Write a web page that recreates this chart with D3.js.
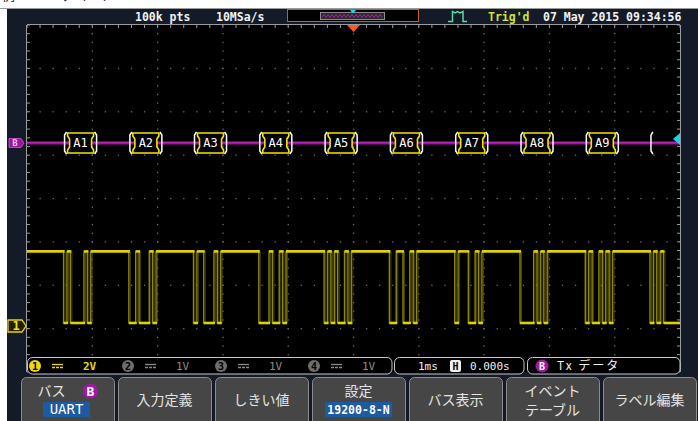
<!DOCTYPE html>
<html>
<head>
<meta charset="utf-8">
<title>UART bus decode</title>
<script src="https://d3js.org/d3.v7.min.js"></script>
<style>
  html, body { margin: 0; padding: 0; background: #fff; }
  svg { display: block; }
  text { font-family: "DejaVu Sans Mono", monospace; }
  .jp { font-family: "Noto Sans CJK JP", sans-serif; }
</style>
</head>
<body>
<svg id="scope" width="698" height="421"></svg>
<script>
// decoded bytes on bus B (UART 19200-8-N), last frame is cut by the screen edge
var busBytes = ['A1', 'A2', 'A3', 'A4', 'A5', 'A6', 'A7', 'A8', 'A9', '05'];
var frameStart = [-4.44, -3.44, -2.45, -1.45, -0.45, 0.55, 1.55, 2.55, 3.55, 4.54];
var baudRate = 19200;
var ch1Levels = [0, 3.3];           // low / high, volts
var ch1Settings = { voltsPerDiv: 2, offsetDiv: -2.87 };
var busOffsetDiv = 1.28;

var headerTexts = ['100k pts', '10MSa/s'];
var channelScales = ['2V', '1V', '1V', '1V'];
var timebase = ['1ms', '0.000s'];
var menuLabels = [['バス', 'UART'], ['入力定義'], ['しきい値'], ['設定', '19200-8-N'],
                  ['バス表示'], ['イベント', 'テーブル'], ['ラベル編集']];

var svg = d3.select('#scope');
var navy = '#141a27';

// scales: 10 x 8 divisions
var x = d3.scaleLinear().domain([-5, 5]).range([27, 680]);
var y = d3.scaleLinear().domain([-4, 4]).range([372, 25]);
var bitMs = 1000 / baudRate;
function ch1Y(v) { return y(ch1Settings.offsetDiv + v / ch1Settings.voltsPerDiv); }

// background
svg.append('rect').attr('width', 698).attr('height', 421).attr('fill', '#fff');
svg.append('rect').attr('x', 7).attr('y', 9).attr('width', 691).attr('height', 412).attr('fill', navy);
svg.append('line').attr('x1', 0).attr('x2', 698).attr('y1', 8.5).attr('y2', 8.5).attr('stroke', '#9a9a9a');
svg.append('text').attr('class', 'jp').attr('x', 2).attr('y', 0).attr('font-size', 13)
    .attr('fill', '#222').text('例：UARTデコード');

svg.append('rect').attr('x', x(-5)).attr('y', y(4)).attr('width', x(5) - x(-5)).attr('height', y(-4) - y(4))
    .attr('fill', '#000');

// grid dots
var grid = svg.append('g').attr('fill', '#6c6c6c');
var minorX = d3.range(-5, 5.001, 0.2), minorY = d3.range(-4, 4.001, 0.2);
d3.range(-3, 4).forEach(function(r) {
    minorX.forEach(function(c) {
        grid.append('rect').attr('x', x(c) - 0.6).attr('y', y(r) - 0.6).attr('width', 1.3).attr('height', 1.3);
    });
});
d3.range(-4, 5).forEach(function(c) {
    minorY.forEach(function(r) {
        grid.append('rect').attr('x', x(c) - 0.6).attr('y', y(r) - 0.6).attr('width', 1.3).attr('height', 1.3);
    });
});

// border with ticks
var border = svg.append('g').attr('stroke', '#9c9c9c').attr('stroke-width', 1);
border.append('line').attr('x1', x(-5)).attr('x2', x(5)).attr('y1', y(4) - 0.5).attr('y2', y(4) - 0.5);
border.append('line').attr('x1', x(-5) - 0.5).attr('x2', x(-5) - 0.5).attr('y1', y(4)).attr('y2', y(-4));
border.append('line').attr('x1', x(5) + 0.5).attr('x2', x(5) + 0.5).attr('y1', y(4)).attr('y2', y(-4));
minorX.forEach(function(c) {
    border.append('line').attr('x1', x(c)).attr('x2', x(c)).attr('y1', y(4)).attr('y2', y(4) + 3);
});
minorY.forEach(function(r) {
    border.append('line').attr('x1', x(-5)).attr('x2', x(-5) + 3).attr('y1', y(r)).attr('y2', y(r));
    border.append('line').attr('x1', x(5) - 3).attr('x2', x(5)).attr('y1', y(r)).attr('y2', y(r));
});

var plot = svg.append('g');
svg.append('clipPath').attr('id', 'clip').append('rect')
    .attr('x', x(-5)).attr('y', y(4)).attr('width', x(5) - x(-5)).attr('height', y(-4) - y(4));
plot.attr('clip-path', 'url(#clip)');

// ---- channel 1 UART waveform built from the decoded bytes
var steps = [{ t: -5, v: ch1Levels[1] }];
busBytes.forEach(function(b, i) {
    var val = parseInt(b, 16);
    var bits = [0];
    for (var k = 0; k < 8; k++) bits.push((val >> k) & 1);
    bits.push(1);
    bits.forEach(function(bit, k) {
        steps.push({ t: frameStart[i] + k * bitMs, v: ch1Levels[bit] });
    });
});
steps.push({ t: 5.2, v: ch1Levels[1] });

// runs of equal level
var runs = [];
steps.forEach(function(s, i) {
    var end = i < steps.length - 1 ? steps[i + 1].t : 5.2;
    var last = runs[runs.length - 1];
    if (last && last.v === s.v) last.t1 = end;
    else runs.push({ t0: s.t, t1: end, v: s.v });
});

var stepLine = d3.line().x(function(d) { return x(d.t); }).y(function(d) { return ch1Y(d.v); })
    .curve(d3.curveStepAfter);
plot.append('path').datum(steps).attr('d', stepLine).attr('fill', 'none')
    .attr('stroke', '#8f8900').attr('stroke-width', 1.4);
plot.append('path').datum(steps).attr('d', stepLine).attr('fill', 'none')
    .attr('transform', 'translate(1.5,0)').attr('stroke', '#5e5a00').attr('stroke-width', 1).attr('opacity', 0.7);
plot.selectAll('line.hi').data(runs).enter().append('line')
    .attr('x1', function(d) { return x(d.t0); }).attr('x2', function(d) { return x(d.t1) + 1; })
    .attr('y1', function(d) { return ch1Y(d.v); }).attr('y2', function(d) { return ch1Y(d.v); })
    .attr('stroke', '#ddd300').attr('stroke-width', 2.6);

// ---- bus B
var busY = y(busOffsetDiv);
plot.append('line').attr('x1', x(-5)).attr('x2', x(5)).attr('y1', busY).attr('y2', busY)
    .attr('stroke', '#99179a').attr('stroke-width', 3);
plot.append('line').attr('x1', x(-5)).attr('x2', x(5)).attr('y1', busY - 0.5).attr('y2', busY - 0.5)
    .attr('stroke', '#c02cc0').attr('stroke-width', 0.8);

busBytes.forEach(function(b, i) {
    var xs = x(frameStart[i]), xe = x(frameStart[i] + 10 * bitMs);
    var y0 = busY - 11, y1 = busY + 11;
    var g = plot.append('g');
    g.append('path').attr('d', 'M' + (xs + 3) + ',' + y0 + 'L' + (xs + 1) + ',' + (y0 + 3) + 'V' + (y1 - 3) +
        'L' + (xs + 3) + ',' + y1).attr('fill', 'none').attr('stroke', '#fff').attr('stroke-width', 1.5);
    if (xe > x(5)) return; // incomplete frame: only opening bracket
    g.append('path').attr('d', 'M' + (xe - 3) + ',' + y0 + 'L' + (xe - 1) + ',' + (y0 + 3) + 'V' + (y1 - 3) +
        'L' + (xe - 3) + ',' + y1).attr('fill', 'none').attr('stroke', '#fff').attr('stroke-width', 1.5);
    g.append('path').attr('d', 'M' + (xs + 4) + ',' + (y0 + 1) + 'H' + (xe - 4) + 'V' + (y0 + 4) +
        'L' + (xe - 6) + ',' + (y0 + 7) + 'V' + (y1 - 7) + 'L' + (xe - 4) + ',' + (y1 - 4) + 'V' + (y1 - 1) +
        'H' + (xs + 4) + 'V' + (y1 - 4) + 'L' + (xs + 6) + ',' + (y1 - 7) + 'V' + (y0 + 7) +
        'L' + (xs + 4) + ',' + (y0 + 4) + 'Z')
        .attr('fill', '#000').attr('stroke', '#f2e600').attr('stroke-width', 1.6);
    g.append('text').attr('x', (xs + xe) / 2).attr('y', busY + 4.5).attr('text-anchor', 'middle')
        .attr('font-size', 12).attr('fill', '#fff').text(b);
});

// markers
svg.append('path').attr('d', 'M9,' + (busY - 4.5) + 'H21L24,' + busY + 'L21,' + (busY + 4.5) + 'H9Z')
    .attr('fill', '#9c169c').attr('stroke', '#d45ad4').attr('stroke-width', 0.8);
svg.append('text').attr('x', 15).attr('y', busY + 3.5).attr('text-anchor', 'middle').attr('font-size', 9)
    .attr('font-weight', 'bold').attr('fill', '#f0c8f0').text('B');
var g1 = ch1Y(0) + 3;
svg.append('path').attr('d', 'M8,' + (g1 - 6) + 'H22L26,' + g1 + 'L22,' + (g1 + 6) + 'H8Z')
    .attr('fill', '#201d00').attr('stroke', '#e8d400').attr('stroke-width', 1.3);
svg.append('text').attr('x', 16).attr('y', g1 + 4.5).attr('text-anchor', 'middle').attr('font-size', 12)
    .attr('font-weight', 'bold').attr('fill', '#f4e200').text('1');
svg.append('path').attr('d', 'M673,139L680,133V145Z').attr('fill', '#1ad4e6');
svg.append('path').attr('d', 'M' + (x(0) - 6.5) + ',25H' + (x(0) + 6.5) + 'L' + x(0) + ',32Z').attr('fill', '#ff5a1c');

// ---- header
var hdr = svg.append('g').attr('font-size', 11.5).attr('font-weight', 'bold');
hdr.append('text').attr('x', 135).attr('y', 21).attr('fill', '#f2f2f2').text(headerTexts[0]);
hdr.append('text').attr('x', 216).attr('y', 21).attr('fill', '#f2f2f2').text(headerTexts[1]);
hdr.append('text').attr('x', 488).attr('y', 21).attr('fill', '#cfe43a').text("Trig'd");
hdr.append('text').attr('x', 543).attr('y', 21).attr('fill', '#f2f2f2').text('07 May 2015 09:34:56');
svg.append('rect').attr('x', 287.5).attr('y', 9.5).attr('width', 131).attr('height', 12)
    .attr('fill', '#000').attr('stroke', '#c4601a');
svg.append('rect').attr('x', 320.5).attr('y', 12.5).attr('width', 64).attr('height', 7)
    .attr('fill', '#2a2a2a').attr('stroke', '#8a8a8a');
var wave = '';
for (var i = 0; i <= 30; i++) wave += (i ? 'L' : 'M') + (322 + i * 2) + ',' + (i % 2 ? 14.5 : 17.5);
svg.append('path').attr('d', wave).attr('fill', 'none').attr('stroke', '#b020b0').attr('stroke-width', 0.9);
svg.append('path').attr('d', 'M350,10H356L353,13.5Z').attr('fill', '#22d8e8');
svg.append('path').attr('d', 'M448,21.5H452.5V11.5L455,13L457.5,11.5L460,13L463,11.5V21.5H467').attr('fill', 'none')
    .attr('stroke', '#55dca0').attr('stroke-width', 1.5);

// ---- status bar
var sb = svg.append('g');
[[27.5, 392], [394.5, 524], [527.5, 680]].forEach(function(s) {
    sb.append('rect').attr('x', s[0]).attr('y', 357.5).attr('width', s[1] - s[0]).attr('height', 16.5)
        .attr('rx', 5).attr('fill', '#000').attr('stroke', '#c8c8c8').attr('stroke-width', 1);
});
var chX = [35, 128, 221, 314];
channelScales.forEach(function(s, i) {
    var on = i === 0, col = on ? '#ecd800' : '#8a8a8a';
    sb.append('circle').attr('cx', chX[i]).attr('cy', 366).attr('r', 6)
        .attr('fill', on ? '#f0d800' : '#6e6e6e');
    sb.append('text').attr('x', chX[i]).attr('y', 370).attr('text-anchor', 'middle').attr('font-size', 10)
        .attr('font-weight', 'bold').attr('fill', '#000').text(i + 1);
    sb.append('line').attr('x1', chX[i] + 17).attr('x2', chX[i] + 28).attr('y1', 364.5).attr('y2', 364.5)
        .attr('stroke', col).attr('stroke-width', 1.3);
    sb.append('line').attr('x1', chX[i] + 17).attr('x2', chX[i] + 28).attr('y1', 367.5).attr('y2', 367.5)
        .attr('stroke', col).attr('stroke-width', 1.3).attr('stroke-dasharray', '3,1');
    sb.append('text').attr('x', chX[i] + 48).attr('y', 370).attr('font-size', 11)
        .attr('font-weight', on ? 'bold' : 'normal').attr('fill', col).text(s);
});
sb.append('text').attr('x', 418).attr('y', 370).attr('font-size', 11).attr('fill', '#f0f0f0').text(timebase[0]);
sb.append('rect').attr('x', 450).attr('y', 360).attr('width', 11).attr('height', 12).attr('rx', 2).attr('fill', '#f0f0f0');
sb.append('text').attr('x', 455.5).attr('y', 370).attr('text-anchor', 'middle').attr('font-size', 10)
    .attr('font-weight', 'bold').attr('fill', '#000').text('H');
sb.append('text').attr('x', 470).attr('y', 370).attr('font-size', 11).attr('fill', '#f0f0f0').text(timebase[1]);
sb.append('circle').attr('cx', 542).attr('cy', 366).attr('r', 6.5).attr('fill', '#a018a8');
sb.append('text').attr('x', 542).attr('y', 370).attr('text-anchor', 'middle').attr('font-size', 10)
    .attr('font-weight', 'bold').attr('fill', '#fff').text('B');
sb.append('text').attr('x', 557).attr('y', 370).attr('class', 'jp').attr('font-size', 12)
    .attr('letter-spacing', 2).attr('fill', '#f0f0f0').text('Tx データ');

// ---- soft menu
var menu = svg.append('g');
menuLabels.forEach(function(lab, i) {
    var bx = 21 + i * 97, cx = bx + 46.5;
    menu.append('rect').attr('x', bx + 0.5).attr('y', 377.5).attr('width', 93).attr('height', 50).attr('rx', 5)
        .attr('fill', '#464646').attr('stroke', '#8c8c8c');
    if (lab.length === 1) {
        menu.append('text').attr('class', 'jp').attr('x', cx).attr('y', 405).attr('text-anchor', 'middle')
            .attr('font-size', 14).attr('fill', '#e4e4e4').text(lab[0]);
        return;
    }
    if (i === 0 || i === 3) {
        var tx = i === 0 ? cx - 16 : cx;
        menu.append('text').attr('class', 'jp').attr('x', tx).attr('y', 396).attr('text-anchor', 'middle')
            .attr('font-size', 14).attr('fill', '#e4e4e4').text(lab[0]);
        var wB = i === 0 ? 47 : 67;
        var cB = i === 0 ? cx - 1 : cx;
        menu.append('rect').attr('x', cB - wB / 2).attr('y', 402).attr('width', wB).attr('height', 15)
            .attr('fill', '#1d5aa0');
        menu.append('text').attr('x', cB).attr('y', 414).attr('text-anchor', 'middle')
            .attr('font-family', i === 0 ? 'Roboto, sans-serif' : null)
            .attr('font-size', i === 0 ? 14 : 11.5).attr('font-weight', i === 0 ? 'normal' : 'bold')
            .attr('fill', '#fff').text(lab[1]);
        if (i === 0) {
            menu.append('circle').attr('cx', cx + 23).attr('cy', 391).attr('r', 7.5).attr('fill', '#a018a8');
            menu.append('text').attr('x', cx + 23).attr('y', 396).attr('text-anchor', 'middle')
                .attr('font-family', 'Roboto, sans-serif').attr('font-weight', 'bold').attr('font-size', 13)
                .attr('fill', '#fff').text('B');
        }
        return;
    }
    menu.append('text').attr('class', 'jp').attr('x', cx).attr('y', 396).attr('text-anchor', 'middle')
        .attr('font-size', 14).attr('fill', '#e4e4e4').text(lab[0]);
    menu.append('text').attr('class', 'jp').attr('x', cx).attr('y', 415).attr('text-anchor', 'middle')
        .attr('font-size', 14).attr('fill', '#e4e4e4').text(lab[1]);
});
</script>
</body>
</html>
